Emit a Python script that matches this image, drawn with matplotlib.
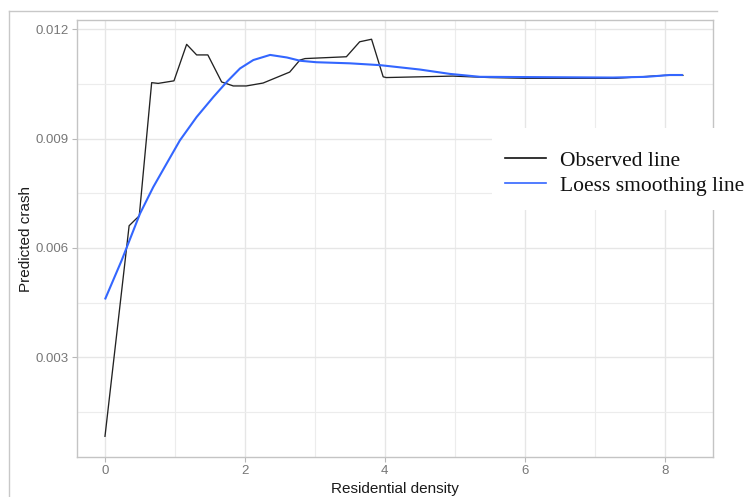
import matplotlib
matplotlib.use("Agg")
import matplotlib.pyplot as plt
from matplotlib.lines import Line2D
from matplotlib.patches import Rectangle
from matplotlib.ticker import MultipleLocator

# ---- data ----
obs_x = [0.0, 0.345, 0.43, 0.49, 0.667, 0.76, 0.986, 1.167, 1.31, 1.47, 1.667,
         1.833, 2.02, 2.26, 2.64, 2.786, 2.86, 3.45, 3.64, 3.81, 3.976, 4.02, 4.97,
         5.5, 6.0, 7.3, 8.0, 8.26]
obs_y = [0.00084, 0.00661, 0.00677, 0.00688, 0.01053, 0.01051, 0.01058, 0.01158,
         0.01129, 0.01129, 0.01055, 0.01044, 0.01044, 0.01052, 0.01082, 0.01115,
         0.01119, 0.01124, 0.01165, 0.01172, 0.01069, 0.01067, 0.01071,
         0.01067, 0.01065, 0.01065, 0.01073, 0.01073]

loess_x = [0.0, 0.238, 0.5, 0.69, 0.88, 1.071, 1.31, 1.55, 1.74, 1.93, 2.12,
           2.36, 2.6, 2.79, 3.02, 3.5, 3.93, 4.5, 4.93, 5.36, 7.26, 7.74, 8.07, 8.26]
loess_y = [0.00459, 0.00566, 0.00694, 0.00767, 0.00831, 0.00895, 0.00959, 0.01014,
           0.01055, 0.01092, 0.01115, 0.01129, 0.01122, 0.01113, 0.01109, 0.01106,
           0.01101, 0.01089, 0.01077, 0.01069, 0.01067, 0.01069, 0.01074, 0.01074]

x_ticks = [0, 2, 4, 6, 8]
y_ticks = [0.003, 0.006, 0.009, 0.012]
y_tick_labels = ["0.003", "0.006", "0.009", "0.012"]
x_label = "Residential density"
y_label = "Predicted crash"
legend_labels = ["Observed line", "Loess smoothing line"]

W, H = 751, 497
fig = plt.figure(figsize=(W / 100, H / 100), dpi=100)
fig.patch.set_facecolor("white")

def px(x, y):
    return (x / W, 1 - y / H)

ax = fig.add_axes([77 / W, 1 - 457 / H, (713 - 77) / W, (457 - 20) / H])
ax.set_facecolor("white")

ax.plot(obs_x, obs_y, color="#222222", lw=0.95, zorder=3)
ax.plot(loess_x, loess_y, color="#3366FF", lw=1.5, zorder=4, solid_capstyle="butt")

ax.set_xlim(-0.4, 8.69)
ax.set_ylim(0.000273, 0.012247)

ax.set_xticks(x_ticks)
ax.set_yticks(y_ticks)
ax.set_yticklabels(y_tick_labels)
ax.xaxis.set_minor_locator(MultipleLocator(1))
ax.yaxis.set_minor_locator(MultipleLocator(0.0015))

ax.grid(which="major", color="#E6E6E6", lw=1.0, zorder=0)
ax.grid(which="minor", color="#ECECEC", lw=0.8, zorder=0)
ax.set_axisbelow(True)

for s in ax.spines.values():
    s.set_color("#C4C4C4")
    s.set_linewidth(1.0)

ax.tick_params(which="major", length=3.5, width=0.8, color="#B8B8B8",
               labelsize=9.5, labelcolor="#777777", pad=2.5)
ax.tick_params(which="minor", length=0)
for lab in ax.get_xticklabels() + ax.get_yticklabels():
    lab.set_family("Liberation Sans")

ax.set_xlabel(x_label, fontsize=11, family="Liberation Sans", color="#1a1a1a")
ax.set_ylabel(y_label, fontsize=11, family="Liberation Sans", color="#1a1a1a")
ax.xaxis.set_label_coords(0.5, (457 - 489) / 437)
ax.yaxis.label.set_verticalalignment("center")
ax.xaxis.label.set_verticalalignment("center")
ax.yaxis.set_label_coords((26 - 77) / 636, 0.5)

# outer frame (top and left lines)
fig.add_artist(Line2D([9 / W, 717 / W], [1 - 11 / H, 1 - 11 / H],
                      transform=fig.transFigure, color="#C8C8C8", lw=1.0))
fig.add_artist(Line2D([9 / W, 9 / W], [1 - 11 / H, 0],
                      transform=fig.transFigure, color="#C8C8C8", lw=1.0))

# legend box
fig.add_artist(Rectangle(px(492, 210), (W - 492) / W, 82 / H,
                         transform=fig.transFigure, facecolor="white",
                         edgecolor="none", zorder=10))
handle_colors = ["#111111", "#3366FF"]
handle_y = [158, 183]
base_y = [166.5, 191.5]
for lab, c, hy, by in zip(legend_labels, handle_colors, handle_y, base_y):
    fig.add_artist(Line2D([505 / W, 546 / W], [1 - hy / H, 1 - hy / H],
                          transform=fig.transFigure, color=c, lw=1.2, zorder=11))
    fig.text(560 / W, 1 - by / H, lab, fontsize=15.5, family="Liberation Serif",
             color="#111111", va="baseline", ha="left", zorder=11)

fig.savefig("out.png", dpi=100, facecolor="white")
